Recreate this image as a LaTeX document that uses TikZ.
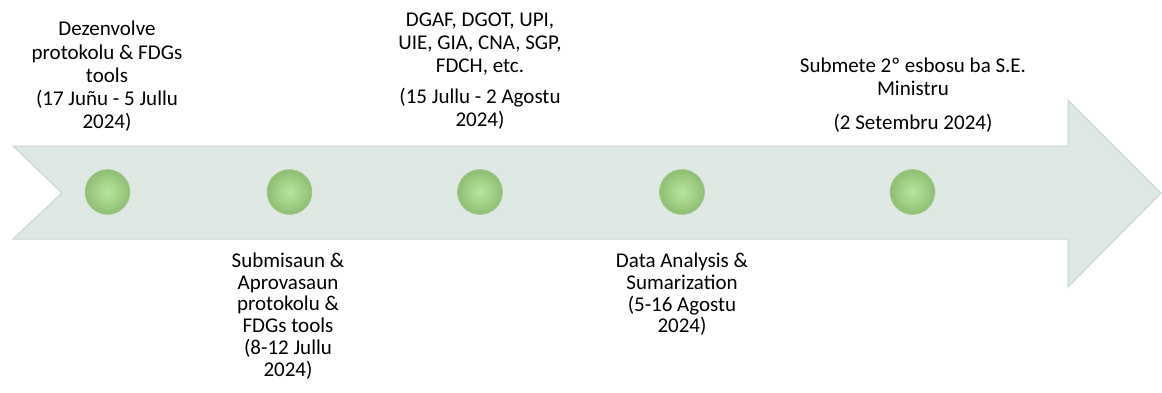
\documentclass[tikz,border=0pt]{standalone}
\usepackage{fontspec}
\setmainfont{Carlito}
\usepackage{xcolor}
\usepackage{tikz}
\definecolor{ArrowFill}{HTML}{DFE9E4}
\definecolor{ArrowEdge}{HTML}{C8D6CE}
\definecolor{DotLight}{HTML}{B9E6A0}
\definecolor{DotDark}{HTML}{8DBE72}

\tikzset{
	stagetext/.style={align=center, inner sep=0pt, font=\fontsize{21}{23.3}\selectfont},
	lowtext/.style={stagetext, font=\fontsize{21}{21.7}\selectfont},
	stagedot/.style={circle, minimum size=45pt, inner sep=0pt, draw=DotDark!80, line width=.6pt,
		inner color=DotLight, outer color=DotDark}
}

\begin{document}
\begin{tikzpicture}[x=1pt, y=-1pt]
			\useasboundingbox (0,0) rectangle (1162,392);

			% timeline arrow
			\filldraw[fill=ArrowFill, draw=ArrowEdge, line width=1pt, line join=miter]
				(13,146) -- (1068,146) -- (1068,100) -- (1161,193) -- (1068,287) -- (1068,239)
				-- (13,239) -- (62,193) -- cycle;

			% stages on the timeline
			\foreach \n/\x in {1/107.5, 2/289.5, 3/480, 4/682, 5/912.5}{
				\node[stagedot] (dot\n) at (\x,192) {};
			}

			% texts above
			\node[stagetext] (develop) at (107,76.5) {Dezenvolve\\protokolu \& FDGs\\tools\\(17 Juñu - 5 Jullu\\2024)};
			\node[stagetext] (collect) at (480,71) {DGAF, DGOT, UPI,\\UIE, GIA, CNA, SGP,\\FDCH, etc.\\[7.5pt](15 Jullu - 2 Agostu\\2024)};
			\node[stagetext] (submit) at (913,95) {Submete 2º esbosu ba S.E.\\Ministru\\[11pt](2 Setembru 2024)};

			% texts below
			\node[lowtext] (approve) at (288,316) {Submisaun \&\\Aprovasaun\\protokolu \&\\FDGs tools\\(8-12 Jullu\\2024)};
			\node[lowtext] (analysis) at (682,294.5) {Data Analysis \&\\Sumarization\\(5-16 Agostu\\2024)};

		\end{tikzpicture}
\end{document}
